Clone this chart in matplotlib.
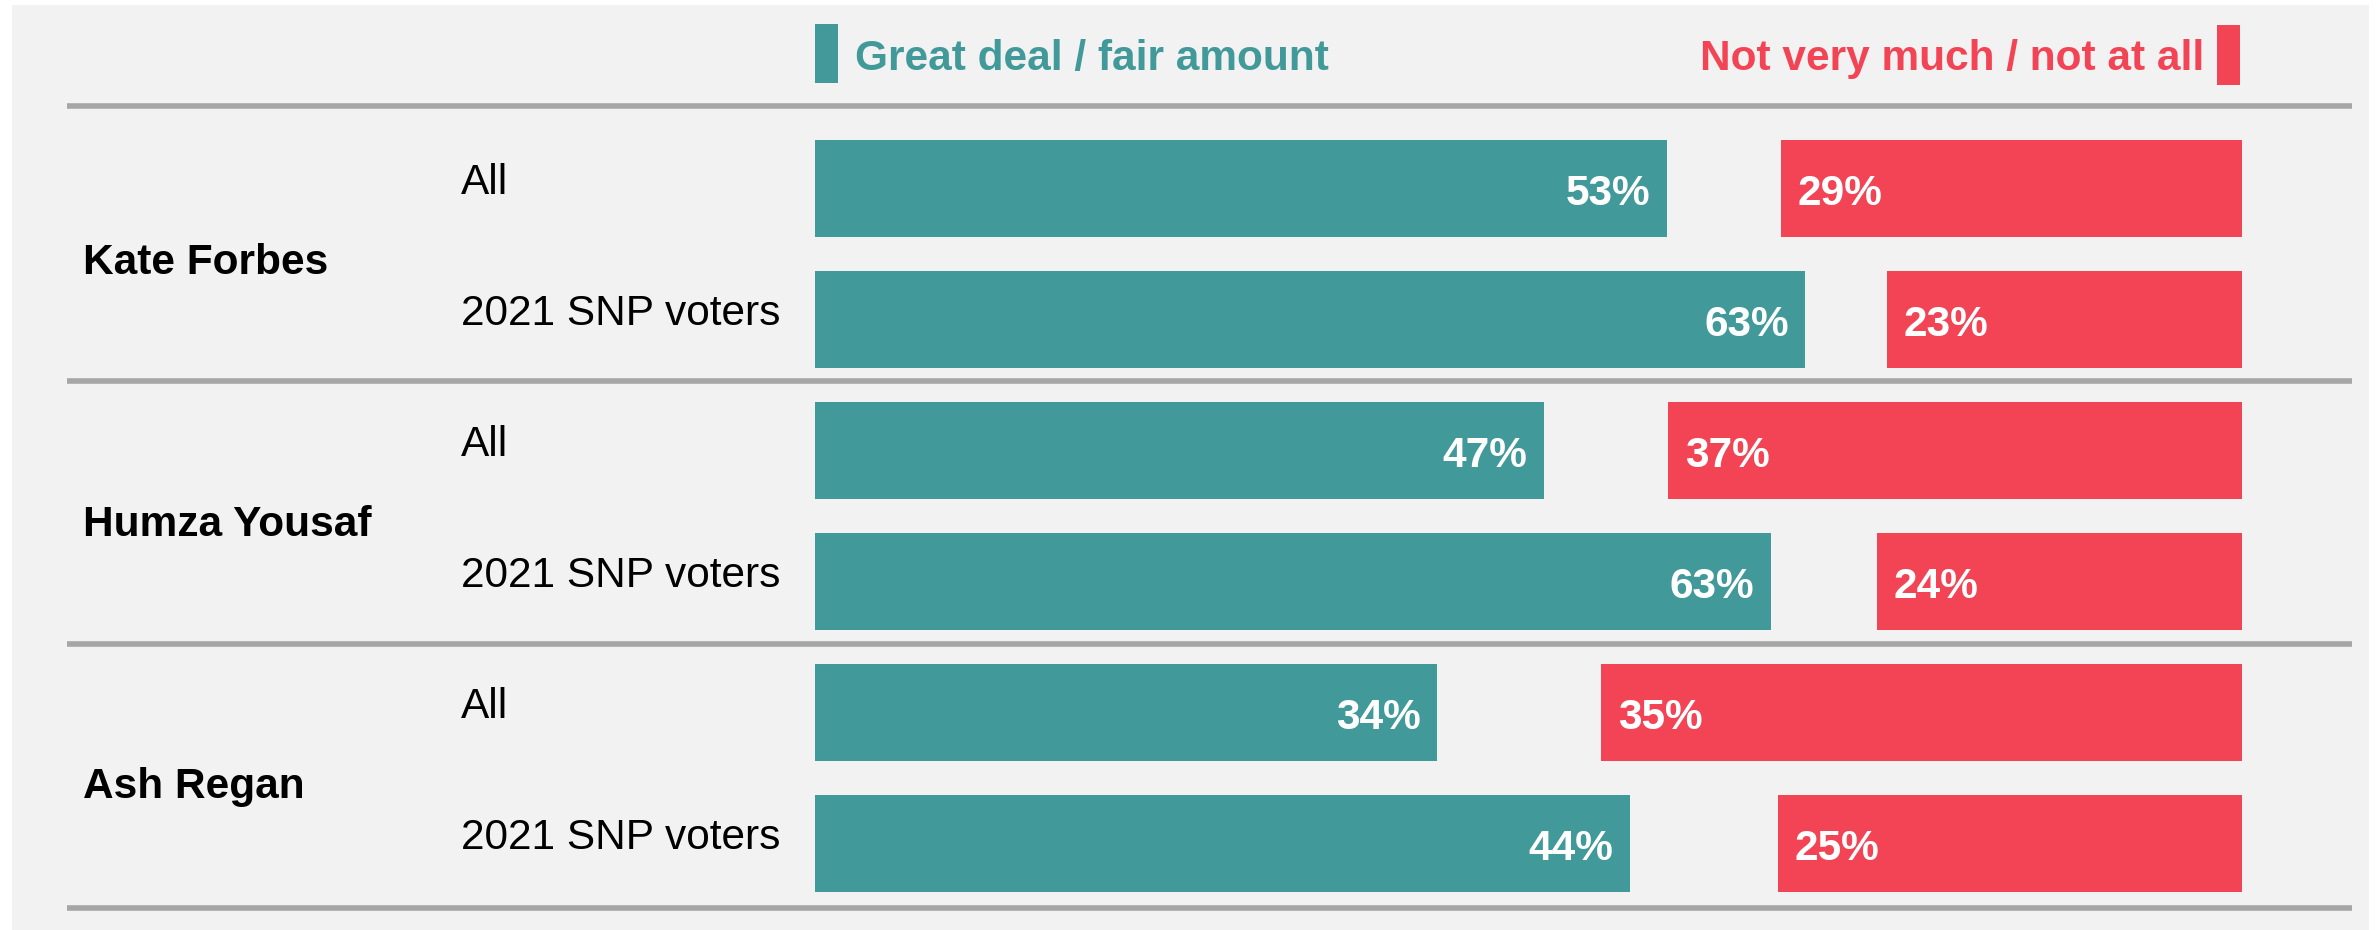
import matplotlib
matplotlib.use("Agg")
import matplotlib.pyplot as plt
from matplotlib.patches import Rectangle

plt.rcParams['font.family'] = ['Liberation Sans', 'DejaVu Sans']

# Datos
candidatos = ['Kate Forbes', 'Humza Yousaf', 'Ash Regan']
grupos = ['All', '2021 SNP voters']

# porcentajes impresos en las etiquetas (fila por fila)
great_pct = [53, 63, 47, 63, 34, 44]
not_pct = [29, 23, 37, 24, 35, 25]

# longitudes de barra tal como aparecen en el gráfico (escala 0-100 del eje)
great_len = [59.7, 69.4, 51.1, 67.0, 43.6, 57.1]
not_len = [32.3, 24.9, 40.2, 25.6, 44.9, 32.5]

leyenda = ['Great deal / fair amount', 'Not very much / not at all']

TEAL = '#42999a'
RED = '#f24455'
GRIS = '#a6a6a6'
FONDO = '#f2f2f2'

W, H = 2379, 930
fig = plt.figure(figsize=(W / 100, H / 100), dpi=100, facecolor='white')

# lienzo en píxeles para el fondo, separadores y leyenda
lienzo = fig.add_axes([0, 0, 1, 1])
lienzo.set_xlim(0, W)
lienzo.set_ylim(H, 0)
lienzo.axis('off')
lienzo.add_patch(Rectangle((12, 5), 2357, 925, facecolor=FONDO, edgecolor='none'))

for y in [106, 381, 644, 908]:
    lienzo.plot([67, 2352], [y, y], color=GRIS, lw=4.0, solid_capstyle='butt')

lienzo.add_patch(Rectangle((815, 24), 23, 59, facecolor=TEAL, edgecolor='none'))
lienzo.add_patch(Rectangle((2217, 25), 23, 60, facecolor=RED, edgecolor='none'))
lienzo.text(855, 70, leyenda[0], color=TEAL, fontsize=30.5, fontweight='bold',
            ha='left', va='baseline')
lienzo.text(2204, 70, leyenda[1], color=RED, fontsize=30.5, fontweight='bold',
            ha='right', va='baseline')

# ejes de las barras: 0-100 entre x=815 y x=2242 px
PX = (2242 - 815) / 100
FILA = 131.0
ax = fig.add_axes([0, 0, 1, 1])
ax.patch.set_alpha(0)
ax.set_xlim(-815 / PX, (W - 815) / PX)
ax.set_ylim((H - 188.7) / FILA, -188.7 / FILA)
ax.axis('off')

filas = list(range(len(great_len)))
alto = 97.3 / FILA

ax.barh(filas, great_len, height=alto, left=0, color=TEAL)
ax.barh(filas, not_len, height=alto, left=[100 - v for v in not_len], color=RED)

for i in filas:
    ax.text(great_len[i] - 16.5 / PX, i + 16 / FILA, f'{great_pct[i]}%', color='white',
            fontsize=30.5, fontweight='bold', ha='right', va='baseline')
    ax.text(100 - not_len[i] + 16.5 / PX, i + 16 / FILA, f'{not_pct[i]}%', color='white',
            fontsize=30.5, fontweight='bold', ha='left', va='baseline')
    ax.text(461 / W, i + 5.5 / FILA, grupos[i % 2], color='black', fontsize=30.5,
            ha='left', va='baseline', transform=ax.get_yaxis_transform())

for g, nombre in enumerate(candidatos):
    ax.text(83 / W, 2 * g + 0.5 + 20 / FILA, nombre, color='black', fontsize=30.5,
            fontweight='bold', ha='left', va='baseline', transform=ax.get_yaxis_transform())

fig.savefig('out.png', dpi=100, facecolor='white')
